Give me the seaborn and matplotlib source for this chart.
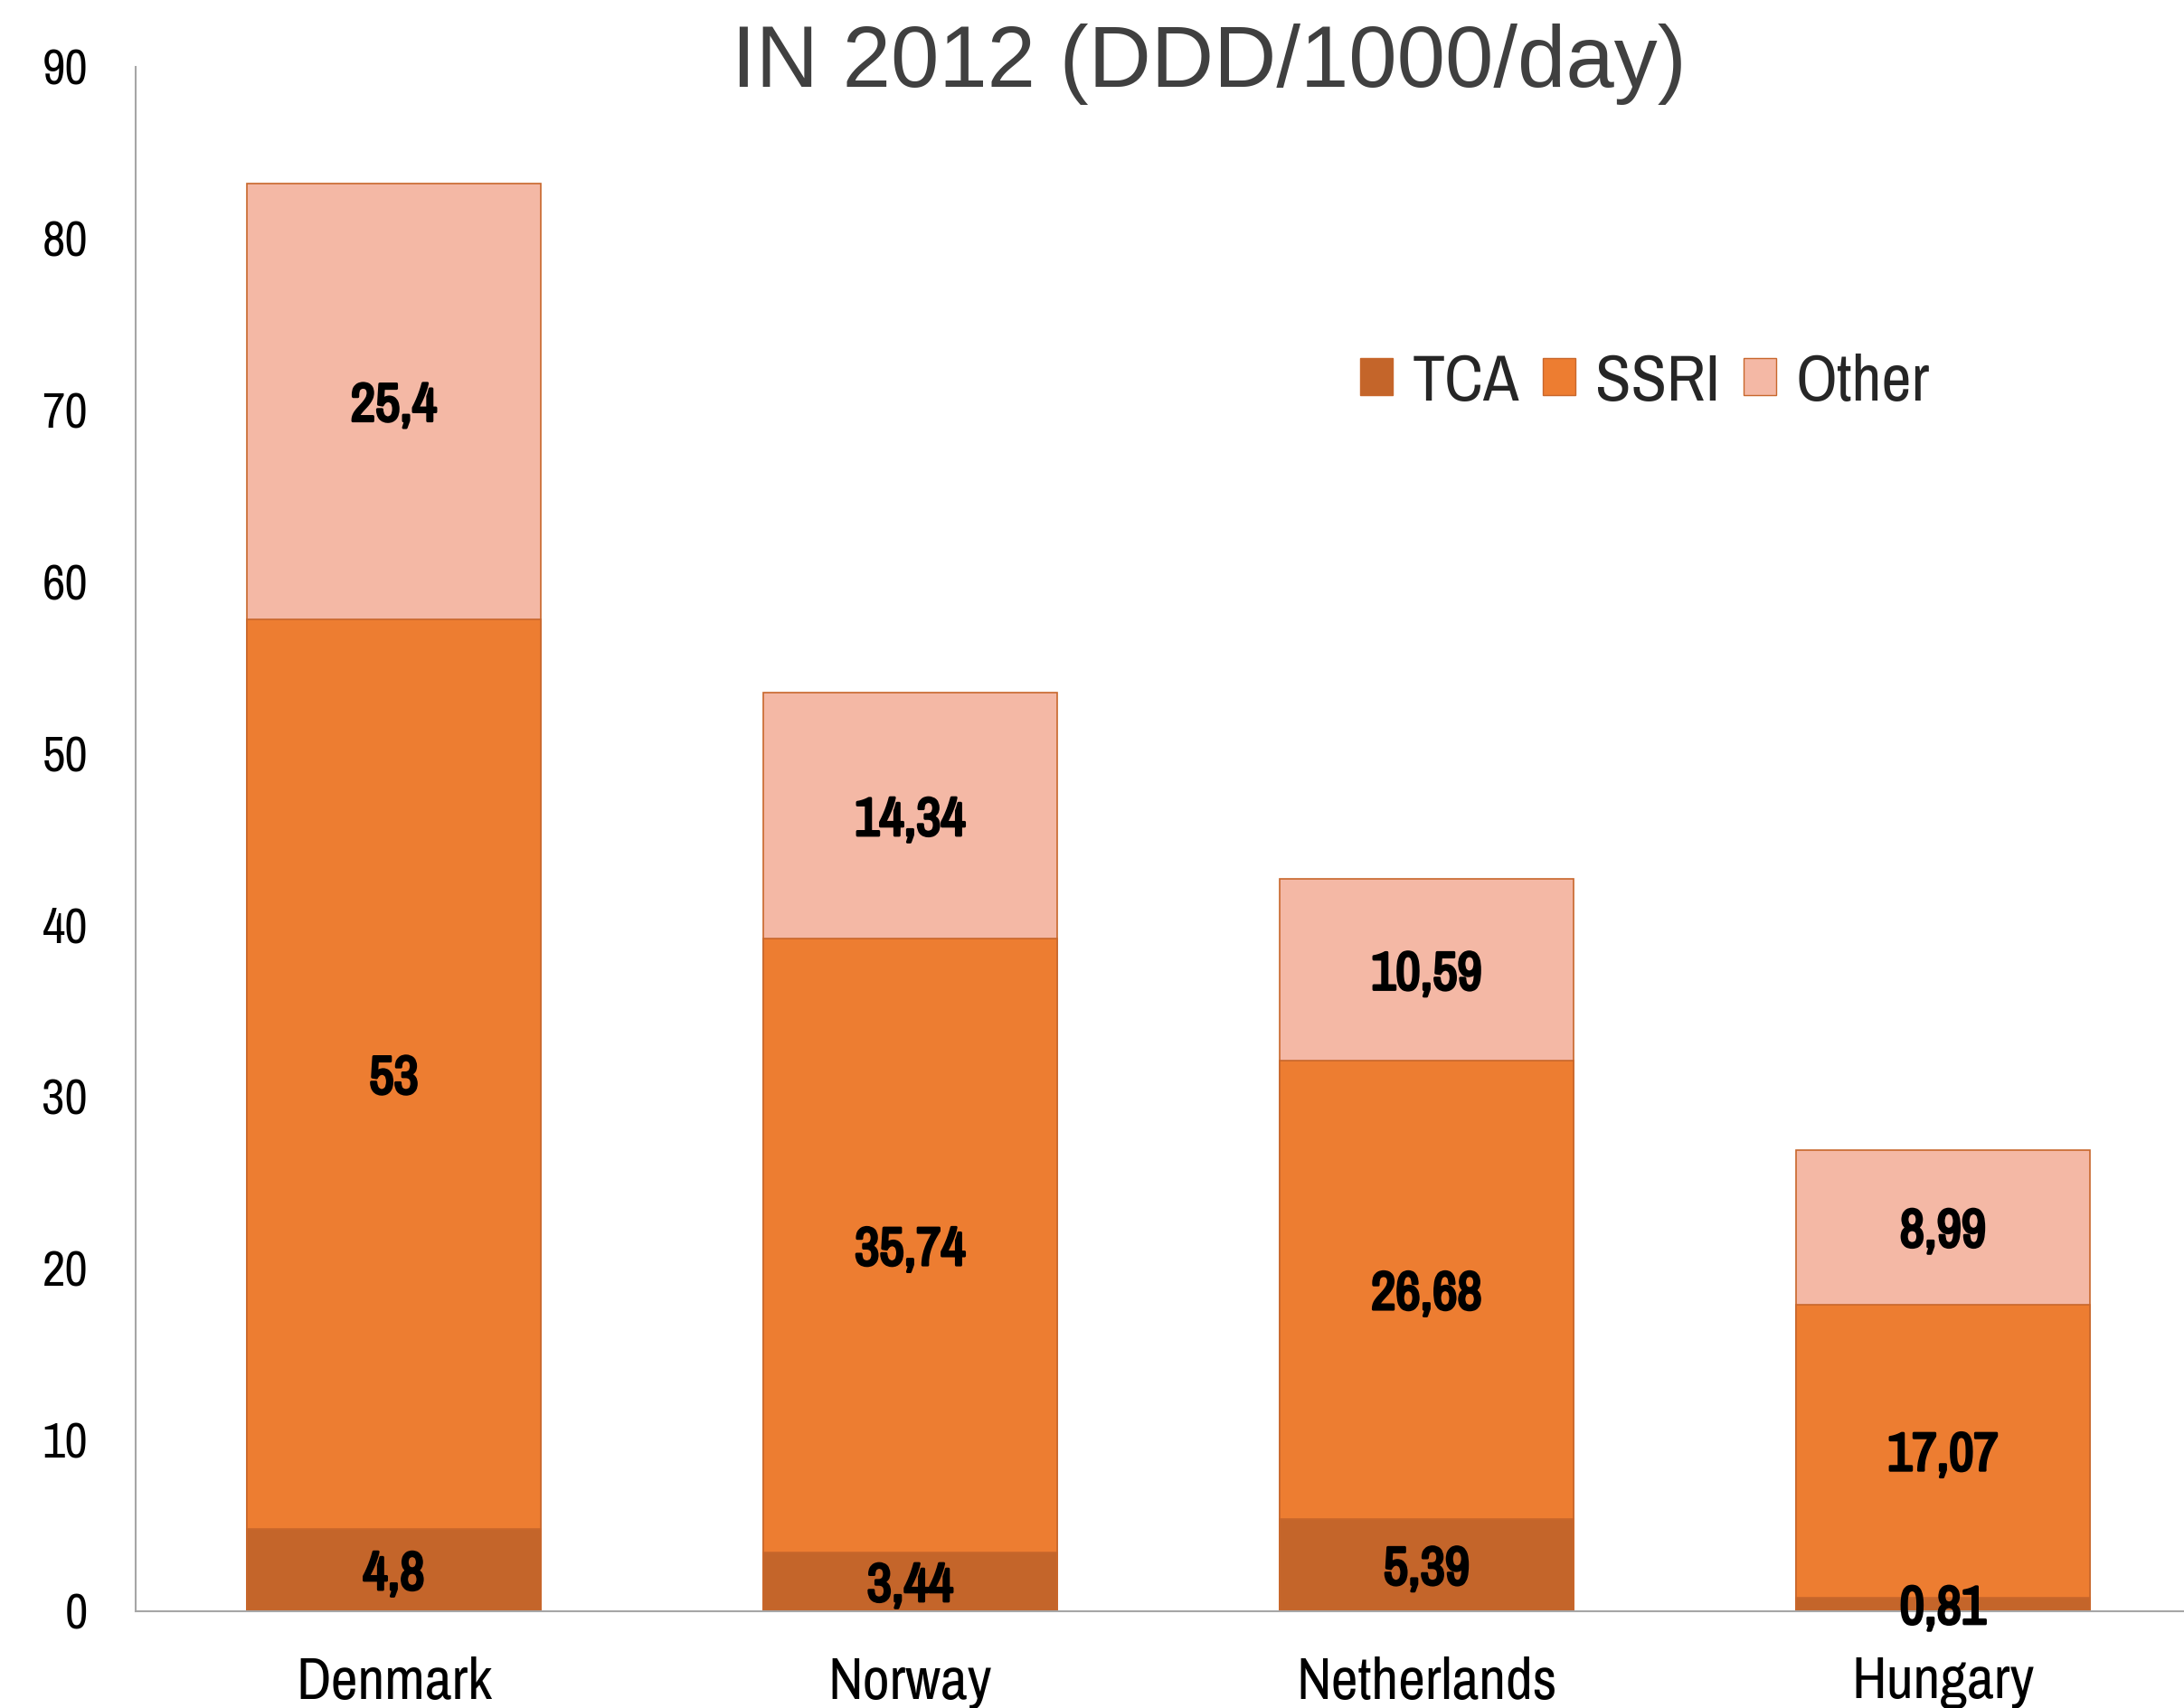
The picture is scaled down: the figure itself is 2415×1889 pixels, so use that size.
"""Stacked antidepressant use per country, 2012 (DDD/1000/day)."""

import matplotlib

matplotlib.use("Agg")
import matplotlib.patheffects as pe
import matplotlib.pyplot as plt
import seaborn as sns
from matplotlib.patches import Patch

sns.set_theme(style="white")

countries = ["Denmark", "Norway", "Netherlands", "Hungary"]
tca = [4.8, 3.44, 5.39, 0.81]
ssri = [53, 35.74, 26.68, 17.07]
other = [25.4, 14.34, 10.59, 8.99]
series_names = ["TCA", "SSRI", "Other"]
y_ticks = [0, 10, 20, 30, 40, 50, 60, 70, 80, 90]

colors = {"TCA": "#C4652A", "SSRI": "#ED7D31", "Other": "#F4B8A5"}
edge = "#C8672C"

# narrow face like Arial Narrow; fall back to Liberation / DejaVu
plt.rcParams["font.family"] = ["Archivo Narrow", "Liberation Sans", "DejaVu Sans"]

fig = plt.figure(figsize=(24.15, 18.89), dpi=100)
ax = fig.add_axes([150 / 2415, 1 - 1782 / 1889, 2284 / 2415, (1782 - 74) / 1889])

# stacking: draw the cumulative totals from the top layer down
lvl2 = [a + b for a, b in zip(tca, ssri)]
lvl3 = [a + b for a, b in zip(lvl2, other)]
for heights, name in ((lvl3, "Other"), (lvl2, "SSRI"), (tca, "TCA")):
    sns.barplot(x=countries, y=heights, color=colors[name], width=0.57,
                edgecolor=edge, linewidth=1.2, saturation=1, ax=ax)

# value labels in the middle of each segment (stroke to get a bold look)
bold = [pe.withStroke(linewidth=2.2, foreground="black")]
for i in range(len(countries)):
    bottoms = (0, tca[i], lvl2[i])
    for b, v in zip(bottoms, (tca[i], ssri[i], other[i])):
        ax.text(i, b + v / 2, f"{v:g}".replace(".", ","), ha="center", va="center_baseline",
                fontsize=43, fontweight="bold", color="black", path_effects=bold)

ax.set_xlim(-0.5, 3.5)
ax.set_ylim(0, 90)
ax.set_yticks(y_ticks)
ax.tick_params(axis="y", labelsize=40, pad=38, length=0, colors="black")
ax.tick_params(axis="x", labelsize=47, pad=36, length=0, colors="black")
for s in ("top", "right"):
    ax.spines[s].set_visible(False)
for s in ("left", "bottom"):
    ax.spines[s].set_color("#A6A6A6")
    ax.spines[s].set_linewidth(1.5)
ax.set_xlabel("")
ax.set_ylabel("")

fig.text(1337 / 2415, 1 - 71 / 1889, "IN 2012 (DDD/1000/day)", ha="center", va="center",
         fontsize=69, color="#404040", family=["Liberation Sans", "DejaVu Sans"])

handles = [Patch(facecolor=colors[n], edgecolor=edge, label=n) for n in series_names]
fig.legend(handles=handles, ncol=3, frameon=False, loc="center",
           bbox_to_anchor=(1819 / 2415, 1 - 423 / 1889), fontsize=52,
           handlelength=0.5, handleheight=0.5, handletextpad=0.3, columnspacing=0.36)

fig.savefig("out.png", dpi=100)
plt.close(fig)
